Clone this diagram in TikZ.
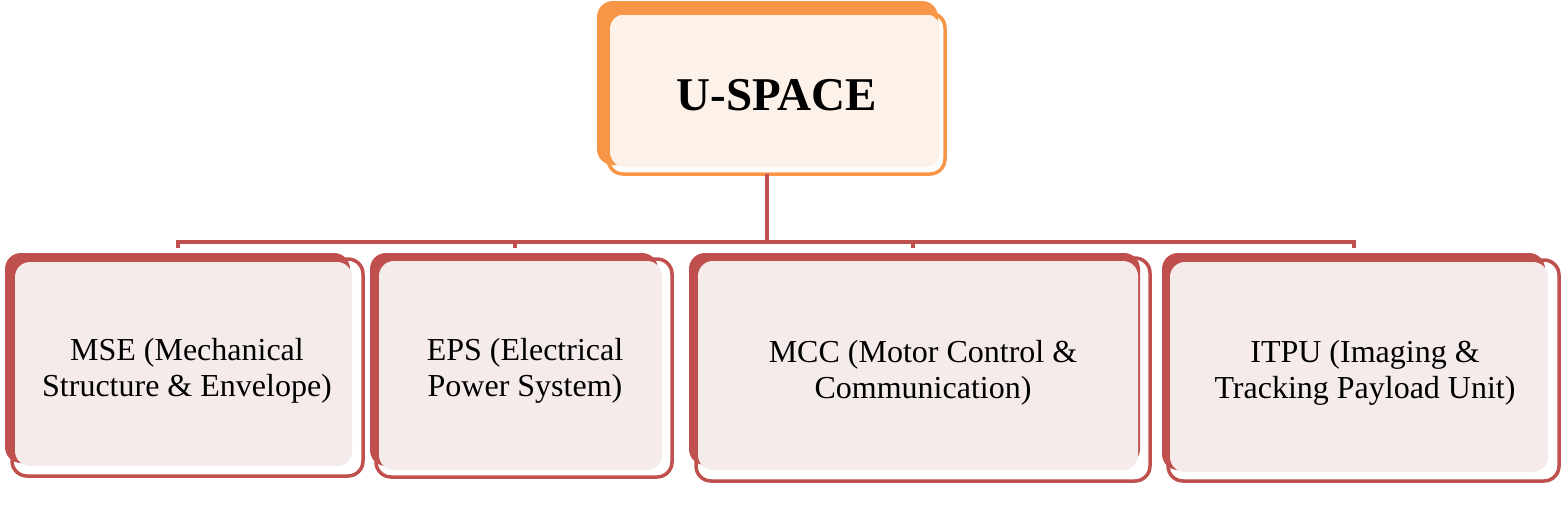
\documentclass[tikz,border=0pt]{standalone}
\usepackage{fontspec}
\setmainfont{Liberation Serif}
\definecolor{org}{HTML}{F79646}
\definecolor{orgfill}{HTML}{FDF2EA}
\definecolor{rd}{HTML}{C0504D}
\definecolor{rdfill}{HTML}{F5EBEB}
\begin{document}
\begin{tikzpicture}[x=1pt,y=-1pt,
  backbox/.style={rounded corners=16pt},
  conn/.style={draw=rd,line width=3.5pt},
  lbl/.style={font=\fontsize{32}{36}\selectfont,align=center}]
\path[use as bounding box] (0,0) rectangle (1561,528);
% root
\fill[org,backbox] (597,1) rectangle (938,165);
\fill[orgfill,rounded corners=15pt] (610,14) rectangle (940,167);
\draw[org,line width=3.5pt,rounded corners=15pt] (608,13) rectangle (945,174);
\node[font=\fontsize{47}{50}\bfseries\selectfont] (root) at (777,95) {U-SPACE};
\coordinate (rootb) at (767,174);
% MSE
\fill[rd,backbox] (5,253) rectangle (350,463);
\fill[rdfill,rounded corners=15pt] (15,262) rectangle (352,466);
\draw[rd,line width=3.5pt,rounded corners=15pt] (12,259) rectangle (363,476);
\node[lbl] (mse) at (187,371) {MSE (Mechanical\\Structure \& Envelope)};
% EPS
\fill[rd,backbox] (370,253) rectangle (658,466);
\fill[rdfill,rounded corners=15pt] (379,261) rectangle (662,470);
\draw[rd,line width=3.5pt,rounded corners=15pt] (376,259) rectangle (672,477);
\node[lbl] (eps) at (525,371) {EPS (Electrical\\Power System)};
% MCC
\fill[rd,backbox] (689,253) rectangle (1140,465);
\fill[rdfill,rounded corners=15pt] (698,261) rectangle (1138,470);
\draw[rd,line width=3.5pt,rounded corners=15pt] (696,258) rectangle (1150,481);
\node[lbl] (mcc) at (923,373) {MCC (Motor Control \&\\Communication)};
% ITPU
\fill[rd,backbox] (1162,253) rectangle (1545,470);
\fill[rdfill,rounded corners=15pt] (1170,262) rectangle (1548,472);
\draw[rd,line width=3.5pt,rounded corners=15pt] (1168,260) rectangle (1559,481);
\node[lbl] (itpu) at (1365,373) {ITPU (Imaging \&\\Tracking Payload Unit)};
% connectors
\coordinate (bus) at (767,242);
\coordinate (tmse) at (178,248);
\coordinate (teps) at (515,248);
\coordinate (tmcc) at (913,248);
\coordinate (titpu) at (1354,248);
\draw[conn] (rootb) -- (bus);
\draw[conn] (bus) -| (tmse);
\draw[conn] (bus) -| (teps);
\draw[conn] (bus) -| (tmcc);
\draw[conn] (bus) -| (titpu);
\end{tikzpicture}
\end{document}
